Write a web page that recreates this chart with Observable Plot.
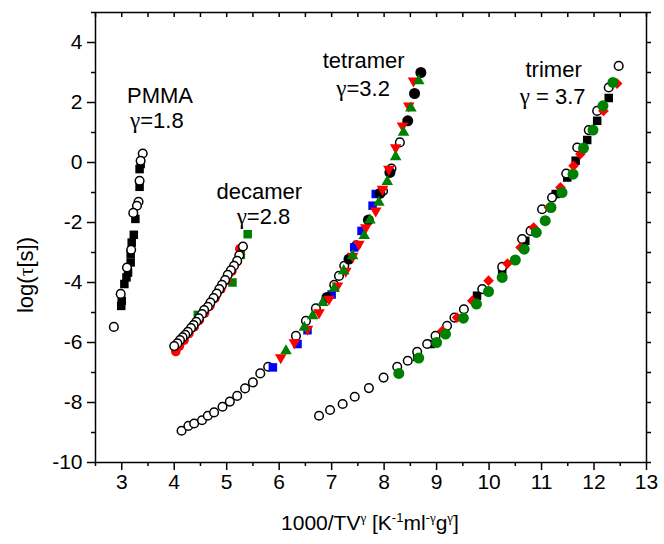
<!DOCTYPE html>
<html><head><meta charset="utf-8">
<script src="https://cdn.jsdelivr.net/npm/d3@7"></script>
<script src="https://cdn.jsdelivr.net/npm/@observablehq/plot@0.6"></script>
<style>body{margin:0;background:#fff} svg{display:block}</style>
</head><body><div id="chart"></div>
<script>
// ---- PMMA (gamma = 1.8)
const pmmaCircX = [3.40,3.36,3.34,3.32,3.29,3.22,3.18,3.10,2.98,2.85];
const pmmaCircY = [0.30,0.06,-0.61,-1.31,-1.44,-1.68,-2.91,-3.50,-4.38,-5.48];
const pmmaSqX = [3.36,3.34,3.34,3.26,3.23,3.19,3.17,3.17,3.12,3.09,3.05,3.00,2.99];
const pmmaSqY = [-0.05,-0.22,-0.81,-1.88,-2.41,-2.67,-3.04,-3.33,-3.67,-3.83,-4.05,-4.61,-4.78];
// ---- decamer (gamma = 2.8)
const decCircX = [5.31,5.24,5.20,5.14,5.08,5.02,4.97,4.91,4.86,4.81,4.75,4.69,4.64,4.57,4.53,4.47,4.42,4.37,4.32,4.26,4.21,4.16,4.11,4.06,4.00];
const decCircY = [-2.80,-3.09,-3.28,-3.44,-3.59,-3.74,-3.92,-4.08,-4.22,-4.37,-4.52,-4.67,-4.81,-4.92,-5.05,-5.19,-5.31,-5.42,-5.52,-5.64,-5.74,-5.83,-5.92,-6.03,-6.12];
const decRedX = [4.03,4.10,4.19,4.28,4.38,4.48,4.58,4.68,4.78,4.89,5.00,5.10,5.20,5.25];
const decRedY = [-6.30,-6.12,-5.92,-5.70,-5.48,-5.25,-5.02,-4.78,-4.52,-4.22,-3.93,-3.62,-3.30,-2.88];
const decGreenX = [4.45,5.11,5.27,5.40];
const decGreenY = [-5.08,-4.00,-3.08,-2.39];
// ---- tetramer (gamma = 3.2)
const tetCircX = [4.14,4.27,4.38,4.53,4.64,4.76,4.92,5.06,5.20,5.35,5.50,5.64,5.79,6.32,6.51,6.70,7.05,7.14,7.24,7.47,7.98,8.14,8.30];
const tetCircY = [-8.94,-8.78,-8.70,-8.59,-8.44,-8.33,-8.14,-7.97,-7.78,-7.53,-7.33,-7.03,-6.81,-5.78,-5.28,-4.86,-4.08,-3.78,-3.44,-2.76,-0.95,-0.20,0.67];
const tetBlueX = [5.88,6.35,6.54,7.00,7.43,7.57,7.78,7.84];
const tetBlueY = [-6.83,-6.05,-5.59,-4.40,-2.83,-2.28,-1.44,-1.05];
const tetBlackX = [6.91,7.33,7.70,7.92,8.11,8.45,8.58,8.70];
const tetBlackY = [-4.50,-3.22,-1.92,-1.03,-0.33,1.39,2.30,3.00];
const tetRedX = [6.03,6.29,6.54,6.76,6.95,7.11,7.27,7.40,7.52,7.65,7.84,7.97,8.09,8.22,8.35,8.47,8.56];
const tetRedY = [-6.50,-6.00,-5.55,-5.00,-4.55,-4.11,-3.62,-3.12,-2.72,-2.17,-1.61,-0.89,-0.22,0.50,1.22,1.89,2.72];
const tetGreenX = [6.13,6.48,6.64,6.83,7.05,7.23,7.40,7.62,7.73,7.90,8.06,8.22,8.37,8.51,8.66];
const tetGreenY = [-6.28,-5.50,-5.11,-4.67,-4.20,-3.61,-3.11,-2.44,-1.92,-1.33,-0.64,0.19,1.00,1.81,2.72];
// ---- trimer (gamma = 3.7)
const triBlackX = [8.63,8.89,9.77,10.25,10.69,11.27,11.49,11.65,11.87,12.06,12.28];
const triBlackY = [-6.48,-6.05,-4.44,-3.61,-2.61,-1.05,-0.50,0.06,0.75,1.39,2.15];
const triCircX = [6.76,6.97,7.21,7.44,7.71,7.99,8.25,8.45,8.63,8.82,8.98,9.20,9.34,9.52,9.87,10.25,10.63,10.79,11.01,11.20,11.47,11.68,11.90,12.06,12.28,12.47];
const triCircY = [-8.44,-8.25,-8.05,-7.81,-7.52,-7.17,-6.81,-6.61,-6.31,-6.05,-5.78,-5.44,-5.17,-4.89,-4.22,-3.48,-2.55,-2.28,-1.56,-1.17,-0.37,0.50,1.08,1.72,2.50,3.22];
const triRedX = [9.11,9.39,9.68,9.99,10.35,10.60,10.85,11.14,11.36,11.61,11.74,12.18,12.44];
const triRedY = [-5.61,-5.17,-4.61,-3.94,-3.37,-2.83,-2.17,-1.50,-0.83,-0.11,0.28,1.72,2.63];
const triGreenX = [8.28,8.66,9.00,9.17,9.51,9.76,9.99,10.25,10.50,10.67,10.90,11.07,11.18,11.39,11.60,11.80,11.98,12.17,12.36];
const triGreenY = [-7.03,-6.52,-6.00,-5.72,-5.19,-4.72,-4.30,-3.83,-3.25,-2.89,-2.33,-1.94,-1.50,-1.00,-0.39,0.48,1.08,1.89,2.67];
// ---- annotations
const labelText = ["PMMA","\u03b3=1.8","decamer","\u03b3=2.8","tetramer","\u03b3=3.2","trimer","\u03b3 = 3.7"];
const labelX = [3.73,3.67,5.62,5.70,7.61,7.60,11.23,11.21];
const labelY = [2.23,1.39,-0.99,-1.82,3.40,2.46,3.07,2.18];
// ---- ticks
const xMajor = [3,4,5,6,7,8,9,10,11,12,13];
const xMinor = [2.5,3.5,4.5,5.5,6.5,7.5,8.5,9.5,10.5,11.5,12.5];
const yMajor = [-10,-8,-6,-4,-2,0,2,4];
const yMinor = [-9,-7,-5,-3,-1,1,3,5];

const pts = (xs, ys) => xs.map((x, i) => ({x, y: ys[i]}));
const triDown = {
  draw(ctx, size) {
    const y = -Math.sqrt(size / (Math.sqrt(3) * 3));
    ctx.moveTo(0, -y * 2);
    ctx.lineTo(-Math.sqrt(3) * y, y);
    ctx.lineTo(Math.sqrt(3) * y, y);
    ctx.closePath();
  }
};
const RED = "#ff0000", GREEN = "#008000", BLUE = "#0000ff";
const openC = (d) => Plot.dot(d, {x: "x", y: "y", r: 4.3, fill: "white", stroke: "black", strokeWidth: 1.5});
const filled = (d, symbol, r, color) => Plot.dot(d, {x: "x", y: "y", r, symbol, fill: color, stroke: "none"});

const chart = Plot.plot({
  width: 664, height: 544,
  marginLeft: 95, marginRight: 18, marginTop: 12, marginBottom: 82,
  style: {fontFamily: "'Liberation Sans', Arial, sans-serif", background: "white", color: "black"},
  x: {domain: [2.5, 13]},
  y: {domain: [-10, 5]},
  marks: [
    // PMMA
    filled(pts(pmmaSqX, pmmaSqY), "square", 4.8, "black"),
    openC(pts(pmmaCircX, pmmaCircY)),
    // decamer
    filled(pts(decGreenX, decGreenY), "square", 4.8, GREEN),
    filled(pts(decRedX, decRedY), "circle", 4.8, RED),
    openC(pts(decCircX, decCircY)),
    // tetramer
    openC(pts(tetCircX, tetCircY)),
    filled(pts(tetBlueX, tetBlueY), "square", 4.8, BLUE),
    filled(pts(tetBlackX, tetBlackY), "circle", 5.5, "black"),
    filled(pts(tetRedX, tetRedY), triDown, 4.3, RED),
    filled(pts(tetGreenX, tetGreenY), "triangle", 4.3, GREEN),
    // trimer
    filled(pts(triBlackX, triBlackY), "square", 4.8, "black"),
    openC(pts(triCircX, triCircY)),
    filled(pts(triRedX, triRedY), "diamond2", 4.8, RED),
    filled(pts(triGreenX, triGreenY), "circle", 5.5, GREEN),
    // annotations
    Plot.text(labelText.map((t, i) => ({t, x: labelX[i], y: labelY[i]})), {x: "x", y: "y", text: "t", fontSize: 22, fill: "black"}),
    // axes
    Plot.frame({stroke: "black", strokeWidth: 1.5}),
    Plot.axisX(xMajor, {anchor: "bottom", tickSize: 8, fill: "none", label: null, strokeWidth: 1.5}),
    Plot.axisX(xMinor, {anchor: "bottom", tickSize: 4, fill: "none", label: null, strokeWidth: 1.5}),
    Plot.axisX(xMajor, {anchor: "bottom", tickSize: 0, tickPadding: 12, fontSize: 21, label: null, tickFormat: d => String(d)}),
    Plot.axisX(xMajor.concat(xMinor), {anchor: "top", tickSize: -4, fill: "none", label: null, strokeWidth: 1.5}),
    Plot.axisY(yMajor, {anchor: "left", tickSize: 8, fill: "none", label: null, strokeWidth: 1.5}),
    Plot.axisY(yMinor, {anchor: "left", tickSize: 4, fill: "none", label: null, strokeWidth: 1.5}),
    Plot.axisY(yMajor, {anchor: "left", tickSize: 0, tickPadding: 13, fontSize: 21, label: null, tickFormat: d => String(d)}),
    Plot.axisY(yMajor.concat(yMinor), {anchor: "right", tickSize: 4, fill: "none", label: null, strokeWidth: 1.5})
  ]
});

const svg = d3.select(chart);
// render the Greek gamma of the annotations in a serif face, as in the original
svg.selectAll("text").each(function() {
  const el = d3.select(this);
  const s = el.text();
  if (el.selectAll("tspan").size() === 0 && s.startsWith("\u03b3")) {
    el.text(null);
    el.append("tspan").attr("font-family", "'Liberation Serif', serif").attr("font-size", 23).text("\u03b3");
    el.append("tspan").text(s.slice(1));
  }
});

svg.append("text")
  .attr("transform", "translate(33,275) rotate(-90)")
  .attr("text-anchor", "middle")
  .attr("font-size", 22)
  .attr("fill", "black")
  .call(t => {
    t.append("tspan").text("log(");
    t.append("tspan").attr("font-family", "'Liberation Serif', serif").text("\u03c4");
    t.append("tspan").text("[s])");
  });

const xt = svg.append("text")
  .attr("x", 370).attr("y", 530)
  .attr("text-anchor", "middle")
  .attr("font-size", 21)
  .attr("fill", "black");
const parts = [["1000/TV", 0], ["\u03b3", 1], [" [K", 0], ["-1", 1], ["ml", 0], ["-\u03b3", 1], ["g", 0], ["\u03b3", 1], ["]", 0]];
parts.forEach(([s, sup], i) => {
  const prevSup = i > 0 ? parts[i - 1][1] : 0;
  const t = xt.append("tspan").text(s)
    .attr("dy", sup && !prevSup ? -8 : (!sup && prevSup ? 8 : 0));
  if (sup) t.attr("font-size", 13);
  if (sup && s.includes("\u03b3")) t.attr("font-family", "'Liberation Serif', serif");
});

document.getElementById("chart").appendChild(chart);
</script>
</body></html>
